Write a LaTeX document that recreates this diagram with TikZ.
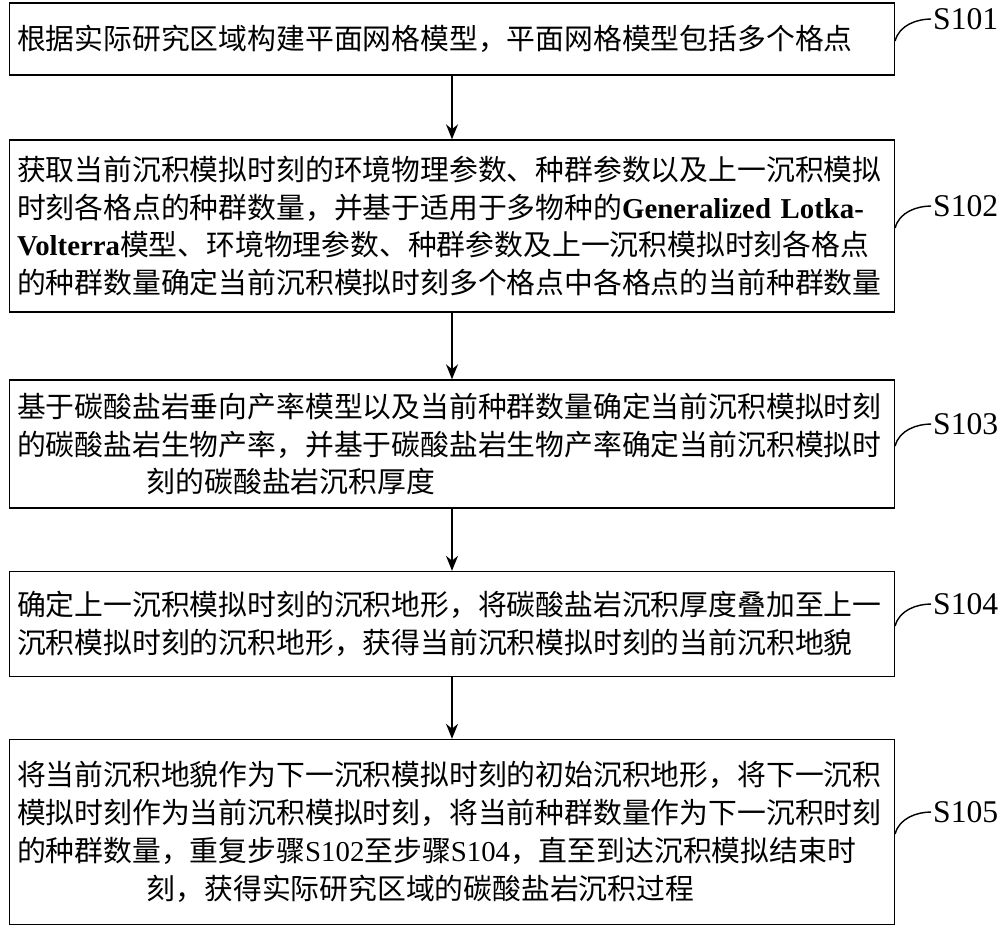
\documentclass[tikz,border=0pt]{standalone}
\usepackage{fontspec}
\setmainfont{Liberation Serif}
\newfontfamily\cjk{Noto Sans CJK SC}
\usetikzlibrary{positioning,calc,arrows.meta}
\begin{document}
\begin{tikzpicture}[
		x=0.02cm,y=-0.02cm,
		stepbox/.style={draw,thick,text width=17.4cm,align=left,inner sep=1.5mm,
			node font=\fontsize{16.4}{21.6}\selectfont\cjk},
		steplabel/.style={node font=\fontsize{18}{20}\selectfont,inner sep=1pt,anchor=west},
		flow/.style={thick,-{Stealth[length=3mm,width=2.4mm]}},
		tie/.style={thick}
	]
	\useasboundingbox (0,0) rectangle (1000,938);
	\node[stepbox,minimum height=1.44cm] (s1) at (452,39) {根据实际研究区域构建平面网格模型，平面网格模型包括多个格点};
	\node[stepbox,minimum height=3.44cm] (s2) at (452,226) {获取当前沉积模拟时刻的环境物理参数、种群参数以及上一沉积模拟\\
		时刻各格点的种群数量，并基于适用于多物种的{\rmfamily\bfseries Generalized Lotka-}\\
		{\rmfamily\bfseries Volterra}模型、环境物理参数、种群参数及上一沉积模拟时刻各格点\\
		的种群数量确定当前沉积模拟时刻多个格点中各格点的当前种群数量};
	\node[stepbox,minimum height=2.56cm] (s3) at (452,444) {基于碳酸盐岩垂向产率模型以及当前种群数量确定当前沉积模拟时刻\\
		的碳酸盐岩生物产率，并基于碳酸盐岩生物产率确定当前沉积模拟时\\
		\hspace*{4.5em}刻的碳酸盐岩沉积厚度};
	\node[stepbox,minimum height=2.1cm] (s4) at (452,624) {确定上一沉积模拟时刻的沉积地形，将碳酸盐岩沉积厚度叠加至上一\\
		沉积模拟时刻的沉积地形，获得当前沉积模拟时刻的当前沉积地貌};
	\node[stepbox,minimum height=3.7cm] (s5) at (452,832) {将当前沉积地貌作为下一沉积模拟时刻的初始沉积地形，将下一沉积\\
		模拟时刻作为当前沉积模拟时刻，将当前种群数量作为下一沉积时刻\\
		的种群数量，重复步骤{\rmfamily S102}至步骤{\rmfamily S104}，直至到达沉积模拟结束时\\
		\hspace*{4.5em}刻，获得实际研究区域的碳酸盐岩沉积过程};
	% arrows between steps
	\foreach \a/\b in {s1/s2,s2/s3,s3/s4,s4/s5}
		\draw[flow] (\a.south) -- (\b.north);
	% step labels
	\foreach \s/\t in {s1/S101,s2/S102,s3/S103,s4/S104,s5/S105}{
		\coordinate (\s tie) at ($(\s.east)+(0,2)$);
		\node[steplabel] (\s lab) at ($(\s tie)+(36,-22)$) {\t};
		\draw[tie] (\s tie) .. controls +(4,-16) and +(-14,0) .. (\s lab.west);
	}
\end{tikzpicture}
\end{document}
